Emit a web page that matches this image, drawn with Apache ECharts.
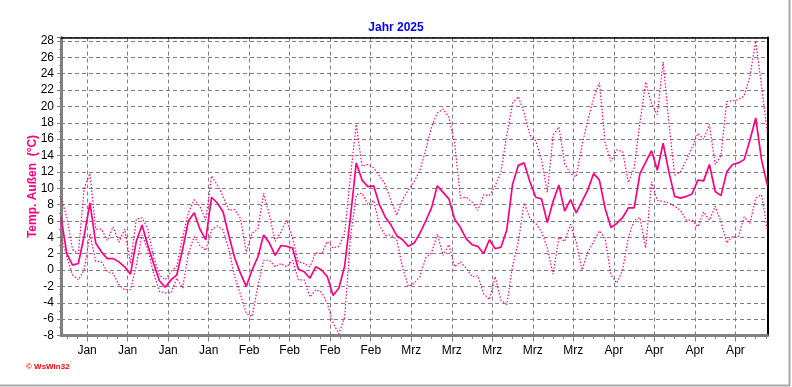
<!DOCTYPE html>
<html><head><meta charset="utf-8">
<script src="https://cdn.jsdelivr.net/npm/echarts@6/dist/echarts.min.js"></script>
<style>html,body{margin:0;padding:0;background:#fff}#c{width:792px;height:387px}</style>
</head><body><div id="c"></div>
<script>
// daily values, day 0 = 1 Jan 2025
const tMax = [8.8,6.5,2.5,2.0,10.0,11.8,5.0,5.0,3.6,5.3,3.4,5.0,0.8,6.2,6.4,5.0,1.6,-0.6,-1.2,-0.2,
  0.5,4.0,7.0,8.6,7.8,6.1,11.5,10.4,9.0,7.3,7.4,6.3,2.2,4.5,5.0,9.4,6.7,3.5,4.7,6.1,
  3.9,1.0,0.8,0.4,2.1,2.0,3.5,2.7,2.9,4.5,11.5,17.8,12.7,12.9,12.5,11.5,10.5,8.5,6.7,8.6,
  9.8,10.8,12.2,14.7,17.5,19.2,19.7,18.7,15.5,8.8,8.9,8.3,7.3,9.2,9.1,10.3,12.0,16.5,20.4,21.2,
  19.2,16.5,15.8,13.5,9.5,16.5,17.5,13.0,11.8,11.4,15.3,18.3,21.0,22.9,15.5,13.3,14.7,14.5,10.7,12.5,
  18.0,23.0,20.3,19.0,25.5,18.0,11.6,12.0,13.4,15.0,16.7,16.0,17.8,12.9,14.0,20.6,20.7,20.8,21.3,23.7,
  28.0,22.5,16.8];
const tMittel = [6.5,2.0,0.6,0.8,4.2,8.2,3.3,2.2,1.4,1.4,1.0,0.4,-0.5,3.5,5.5,3.0,0.8,-1.3,-2.1,-1.2,
  -0.6,2.5,6.0,7.0,5.0,3.7,8.9,8.2,7.1,4.2,1.5,-0.4,-2.0,0.0,1.6,4.3,3.3,1.8,3.0,2.9,
  2.7,0.1,-0.2,-1.0,0.4,0.0,-0.8,-3.1,-2.2,0.5,6.5,13.1,11.0,10.2,10.3,8.0,6.5,5.5,4.2,3.7,
  2.9,3.3,4.5,6.0,7.6,10.3,9.5,8.7,6.2,5.2,3.8,3.1,2.9,2.0,3.7,2.6,2.8,4.9,10.5,12.8,
  13.1,10.8,8.9,8.7,5.8,8.4,10.4,7.2,8.6,7.0,8.4,9.8,11.8,11.0,7.5,5.2,5.7,6.4,7.6,7.6,
  11.8,13.2,14.6,12.2,15.5,12.0,9.0,8.8,9.0,9.3,11.0,10.9,12.9,9.6,9.1,12.0,12.9,13.1,13.5,15.9,
  18.6,13.5,10.4];
const tMin = [4.1,1.6,-0.6,-1.2,0.0,4.4,1.1,1.0,-0.2,-0.4,-1.8,-2.4,-2.4,0.5,4.3,2.5,-0.4,-2.6,-2.8,-2.8,
  -1.0,-2.2,2.0,4.1,3.0,2.4,4.9,5.4,4.9,2.5,-0.8,-3.0,-5.3,-5.7,-2.0,1.2,1.2,0.4,0.8,0.4,
  1.2,-1.2,-1.2,-3.3,-2.4,-2.7,-4.1,-6.5,-7.8,-5.7,4.0,9.2,9.4,8.0,8.5,5.5,4.2,4.3,3.7,0.3,
  -2.0,-1.6,-0.8,1.5,2.1,4.4,1.8,3.1,0.4,1.0,0.2,-0.8,-0.7,-2.9,-3.6,-0.8,-3.7,-4.2,0.5,3.5,
  8.2,6.3,5.7,4.7,2.7,-0.5,4.0,3.5,5.6,3.4,0.0,2.2,3.5,4.8,3.8,-0.6,-1.6,0.0,4.0,6.1,
  6.4,2.7,10.8,8.5,8.4,8.2,7.8,7.3,6.1,6.1,5.3,7.1,6.1,7.8,5.9,3.3,4.1,4.1,6.5,5.7,
  8.8,9.2,5.0];
const xTickLabels = ['Jan','Jan','Jan','Jan','Feb','Feb','Feb','Feb','Mrz','Mrz','Mrz','Mrz','Mrz','Apr','Apr','Apr','Apr'];
const FIRST_TICK = 4.5, TICK_STEP = 7; // weekly grid (Sundays)
const X_MAX = tMax.length - 1;
const majorTicks = xTickLabels.map((_, i) => FIRST_TICK + i * TICK_STEP);
const minorTicks = [];
for (let p = FIRST_TICK - TICK_STEP / 2; p <= X_MAX; p += TICK_STEP / 4) {
  if (p >= 0 && !majorTicks.some(m => Math.abs(m - p) < 1e-6)) minorTicks.push(p);
}
const Y_MIN = -8, Y_MAX = 28.43;
const PINK = '#ff0080';
const GRAY = '#808080';
const FONT = 'Liberation Sans, Arial, sans-serif';

const chart = echarts.init(document.getElementById('c'), null, {renderer: 'canvas'});
const lineS = (name, arr, style) => ({
  name, type: 'line', data: arr.map((v, i) => [i, v]), symbol: 'none', showSymbol: false,
  silent: true, lineStyle: style, z: 3
});
chart.setOption({
  animation: false,
  backgroundColor: '#fff',
  title: {text: 'Jahr 2025', left: 'center', top: 17,
    textStyle: {color: '#0000ff', fontSize: 12, fontWeight: 'bold', fontFamily: FONT}},
  grid: {left: 61, right: 24.7, top: 37.5, bottom: 51.5, containLabel: false},
  xAxis: [
    {type: 'value', min: 0, max: X_MAX, position: 'bottom',
      axisLine: {show: true, onZero: false, lineStyle: {color: GRAY, width: 3}},
      axisTick: {show: true, customValues: majorTicks, length: 6, lineStyle: {color: GRAY, width: 1}},
      axisLabel: {show: true, customValues: majorTicks, margin: 9, color: '#000', fontSize: 12, fontFamily: FONT,
        formatter: v => xTickLabels[Math.round((v - FIRST_TICK) / TICK_STEP)] || ''},
      splitLine: {show: true, lineStyle: {color: GRAY, width: 1, type: [4, 3]}}
    },
    {type: 'value', min: 0, max: X_MAX, position: 'bottom',
      axisLine: {show: false, onZero: false},
      axisTick: {show: true, customValues: minorTicks, length: 3.5, lineStyle: {color: GRAY, width: 1}},
      axisLabel: {show: false}, splitLine: {show: false}
    },
    {type: 'value', min: 0, max: X_MAX, position: 'top',
      axisLine: {show: true, onZero: false, lineStyle: {color: '#000', width: 1.5}},
      axisTick: {show: false}, axisLabel: {show: false}, splitLine: {show: false}
    }
  ],
  yAxis: [
    {type: 'value', min: Y_MIN, max: Y_MAX, interval: 2, position: 'left',
      name: 'Temp. Außen  (°C)', nameLocation: 'middle', nameGap: 22, nameRotate: 90, nameMoveOverlap: false,
      nameTextStyle: {color: PINK, fontSize: 12, fontWeight: 'bold', fontFamily: FONT},
      axisLine: {show: true, onZero: false, lineStyle: {color: GRAY, width: 3}},
      axisTick: {show: true, length: 4, lineStyle: {color: GRAY, width: 1}},
      minorTick: {show: true, splitNumber: 2, length: 2, lineStyle: {color: GRAY}},
      axisLabel: {margin: 7, color: '#000', fontSize: 12, fontFamily: FONT, showMaxLabel: false,
        formatter: v => (Math.abs(v - Math.round(v)) < 1e-6 ? String(Math.round(v)) : '')},
      splitLine: {show: true, lineStyle: {color: GRAY, width: 1, type: [4, 3]}}
    },
    {type: 'value', min: Y_MIN, max: Y_MAX, position: 'right',
      axisLine: {show: true, onZero: false, lineStyle: {color: '#000', width: 2}},
      axisTick: {show: false}, axisLabel: {show: false}, splitLine: {show: false}
    }
  ],
  graphic: [
    {type: 'line', shape: {x1: 789.5, y1: 0, x2: 789.5, y2: 386}, style: {stroke: '#a8a8a8', lineWidth: 2}, silent: true},
    {type: 'line', shape: {x1: 0, y1: 385.5, x2: 790, y2: 385.5}, style: {stroke: '#a8a8a8', lineWidth: 2}, silent: true},
    {type: 'text', left: 26, top: 363, style: {text: '© WsWin32', fill: '#ff0000', font: 'bold 8px ' + FONT}, silent: true}
  ],
  series: [
    lineS('Max', tMax, {color: PINK, width: 1.2, type: [1.5, 1.8]}),
    lineS('Mittel', tMittel, {color: PINK, width: 1.7, type: 'solid'}),
    lineS('Min', tMin, {color: PINK, width: 1.2, type: [1.5, 1.8]})
  ]
});
</script></body></html>
